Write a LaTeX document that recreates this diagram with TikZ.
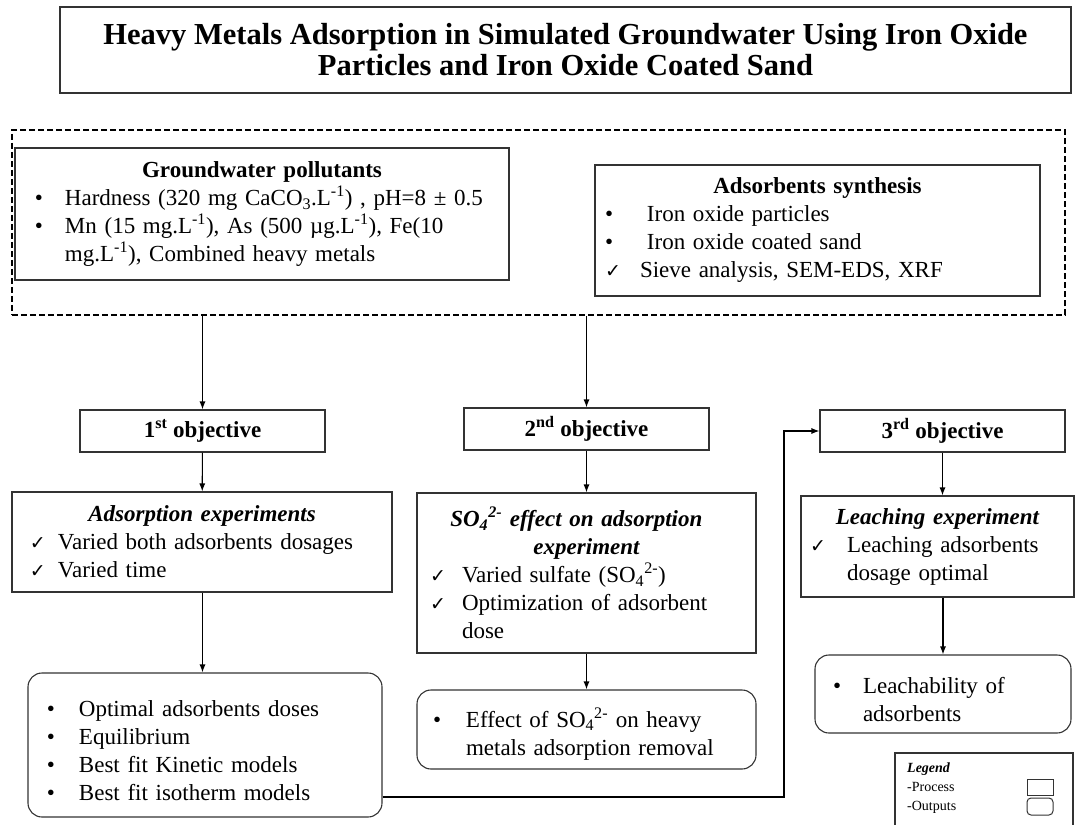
\documentclass[tikz,border=0pt]{standalone}
\usepackage{fontspec}
\setmainfont{Liberation Serif}
\newfontfamily\checkfont{DejaVu Sans}
\usetikzlibrary{arrows.meta}

\newcommand{\bodyfont}{\fontsize{23bp}{28bp}\selectfont}
\newcommand{\bul}[1][30bp]{\par\noindent\hangindent=#1\hangafter=1\makebox[#1][l]{•}\ignorespaces}
\newcommand{\chk}[1][28bp]{\par\noindent\hangindent=#1\hangafter=1\makebox[#1][l]{\checkfont\fontsize{19bp}{19bp}\selectfont ✓}\ignorespaces}

\begin{document}
\begin{tikzpicture}[x=1bp,y=-1bp,
    proc/.style={draw=black!80,line width=1.1bp,rectangle,align=left,font=\bodyfont,inner ysep=3bp},
    outp/.style={proc,rounded corners=14bp},
    objbox/.style={draw=black!80,line width=1.1bp,minimum width=245bp,minimum height=42bp,inner sep=2bp,font=\bodyfont\bfseries},
    link/.style={line width=1.1bp,-{Latex[length=8bp,width=6bp]}}]
    \useasboundingbox (0,0) rectangle (1075,825);

    %title
    \node[draw=black!80,line width=1.1bp,minimum width=1011bp,minimum height=86bp,align=center,
          font=\fontsize{30.5bp}{31bp}\selectfont\bfseries] (title) at (565.5,50)
          {Heavy Metals Adsorption in Simulated Groundwater Using Iron Oxide\\Particles and Iron Oxide Coated Sand};

    %inputs
    \node[draw=black,line width=2bp,dash pattern=on 6bp off 3bp,minimum width=1053bp,minimum height=185bp] (inputs) at (538.5,222.5) {};
    \node[proc,minimum width=494bp,minimum height=132bp,text width=454bp,inner xsep=20bp] (pollut) at (262,214)
        {{\centering\bfseries Groundwater pollutants\par}
         \bul Hardness (320 mg CaCO\textsubscript{3}.L\textsuperscript{-1}) , pH=8 ± 0.5
         \bul Mn (15 mg.L\textsuperscript{-1}), As (500 µg.L\textsuperscript{-1}), Fe(10\newline mg.L\textsuperscript{-1}), Combined heavy metals\par};
    \node[proc,minimum width=445bp,minimum height=131bp,text width=425bp,inner xsep=10bp] (synth) at (817.5,230.5)
        {{\centering\bfseries Adsorbents synthesis\par}
         \bul[42bp] Iron oxide particles
         \bul[42bp] Iron oxide coated sand
         \chk[35bp] Sieve analysis, SEM-EDS, XRF\par};

    %objectives
    \node[objbox] (obj1) at (202.5,431) {1\textsuperscript{st} objective};
    \node[objbox] (obj2) at (586.5,429) {2\textsuperscript{nd} objective};
    \node[objbox] (obj3) at (942.5,431) {3\textsuperscript{rd} objective};

    %processes
    \node[proc,minimum width=380bp,minimum height=100bp,text width=344bp,inner xsep=18bp] (adsorp) at (202,542)
        {{\centering\bfseries\itshape Adsorption experiments\par}
         \chk Varied both adsorbents dosages
         \chk Varied time\par};
    \node[proc,minimum width=339bp,minimum height=160bp,text width=313bp,inner xsep=13bp] (sulf) at (586.5,573)
        {{\centering\bfseries\itshape SO\textsubscript{4}\textsuperscript{2-} effect on adsorption\newline experiment\par}
         \chk[32bp] Varied sulfate (SO\textsubscript{4}\textsuperscript{2-})
         \chk[32bp] Optimization of adsorbent\newline dose\par};
    \node[proc,minimum width=273bp,minimum height=101bp,text width=255bp,inner xsep=9bp] (leach) at (937.5,546.5)
        {{\centering\bfseries\itshape Leaching experiment\par}
         \chk[37bp] Leaching adsorbents\newline dosage optimal\par};

    %outputs
    \node[outp,minimum width=354bp,minimum height=144bp,text width=316bp,inner xsep=19bp] (out1) at (205,745)
        {\bul[32bp] Optimal adsorbents doses
         \bul[32bp] Equilibrium
         \bul[32bp] Best fit Kinetic models
         \bul[32bp] Best fit isotherm models\par};
    \node[outp,minimum width=339bp,minimum height=79bp,text width=307bp,inner xsep=16bp] (out2) at (586.5,729.5)
        {\bul[33bp] Effect of SO\textsubscript{4}\textsuperscript{2-} on heavy\newline metals adsorption removal\par};
    \node[outp,minimum width=256bp,minimum height=78bp,text width=220bp,inner xsep=18bp] (out3) at (943,694)
        {\bul Leachability of\newline adsorbents\par};

    %legend
    \node[draw=black!80,line width=1.1bp,minimum width=178bp,minimum height=78bp] (legend) at (984,792) {};
    \node[anchor=north west,align=left,inner sep=0pt,font=\fontsize{14bp}{19bp}\selectfont] (legtext) at (907,763)
        {\textbf{\textit{Legend}}\\-Process\\-Outputs};
    \node[draw=black!80,line width=1bp,minimum width=26bp,minimum height=16bp,inner sep=0pt] (legproc) at (1040,787) {};
    \node[draw=black!80,line width=1bp,rounded corners=4bp,minimum width=26bp,minimum height=17bp,inner sep=0pt] (legout) at (1040,806.5) {};

    %arrows
    \coordinate (turn) at (784,797);
    \draw[link] (inputs.south -| obj1) -- (obj1.north);
    \draw[link] (inputs.south -| obj2) -- (obj2.north);
    \draw[link] (obj1) -- (adsorp);
    \draw[link] (obj2) -- (sulf);
    \draw[link] (obj3.south) -- (obj3.south |- leach.north);
    \draw[link] (adsorp.south -| obj1) -- (out1.north -| obj1);
    \draw[link] (sulf) -- (out2);
    \draw[link] (leach.south -| out3) -- (out3.north);
    \draw[link] (out1.east |- turn) -- (turn) |- (obj3.west);
\end{tikzpicture}
\end{document}
